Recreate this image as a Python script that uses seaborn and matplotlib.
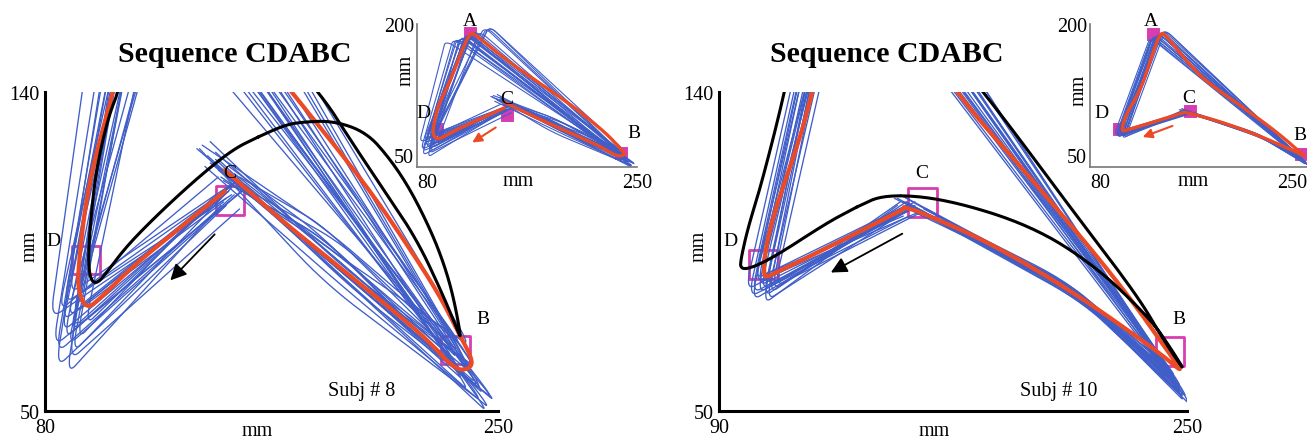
import numpy as np
import pandas as pd
import seaborn as sns
import matplotlib.pyplot as plt

sns.set_theme(style="white")
plt.rcParams['font.family'] = ['Liberation Serif', 'DejaVu Serif']
plt.rcParams['text.color'] = 'black'
plt.rcParams['axes.labelcolor'] = 'black'
plt.rcParams['xtick.color'] = 'black'
plt.rcParams['ytick.color'] = 'black'

BLUE = '#405ec8'
RED = '#ec4a26'
MAGENTA = '#d83cae'

TITLE = 'Sequence CDABC'

# ---------------- Subject 8 ----------------
# single trials: start near C, turn at D, apex A, turn at B, mid B->C, end near C
L_C0_X = [146, 150, 148, 152, 144, 149, 151, 147, 153, 145, 150, 148, 155, 146, 149, 152, 147, 151, 150, 145, 148, 154]
L_C0_Y = [110, 113, 108, 115, 111, 109, 114, 112, 107, 116, 111, 110, 113, 108, 112, 115, 109, 111, 114, 110, 113, 112]
L_D_X = [86, 90, 84, 88, 92, 83, 87, 95, 89, 85, 91, 82, 88, 88, 86, 90, 90, 84, 92, 87, 89, 89]
L_D_Y = [72, 66, 62, 76, 70, 68, 80, 74, 64, 78, 82, 76, 68, 60, 75, 73, 77, 66, 79, 70, 83, 72]
L_A_X = [118, 122, 110, 132, 120, 108, 115, 128, 113, 119, 124, 102, 136, 116, 121, 117, 136, 111, 123, 119, 114, 134]
L_A_Y = [190, 192, 186, 197, 189, 185, 188, 193, 187, 191, 194, 183, 198, 186, 190, 189, 198, 185, 193, 188, 187, 197]
L_B_X = [238, 242, 245, 236, 240, 248, 234, 241, 246, 237, 243, 250, 239, 247, 235, 244, 240, 249, 238, 242, 236, 245]
L_B_Y = [58, 62, 52, 66, 55, 50, 64, 60, 54, 68, 57, 52, 63, 49, 61, 56, 68, 53, 59, 62, 64, 55]
L_M_X = [188, 190, 185, 192, 187, 195, 184, 189, 193, 186, 191, 198, 187, 194, 183, 190, 188, 196, 186, 191, 185, 193]
L_M_Y = [92, 90, 86, 97, 91, 83, 99, 93, 88, 101, 92, 85, 96, 86, 100, 90, 95, 84, 98, 91, 102, 89]
L_C1_X = [142, 147, 138, 150, 145, 140, 152, 144, 148, 139, 155, 143, 146, 141, 149, 137, 151, 144, 147, 142, 153, 145]
L_C1_Y = [120, 117, 124, 115, 121, 119, 113, 123, 118, 125, 114, 120, 116, 122, 119, 124, 117, 121, 115, 126, 116, 118]

# mean trajectory
L_MEAN_X = [147.5, 133.2, 113.1, 100.6, 95.6, 92.5, 92.5, 95.6, 100.6, 105.6, 114, 121, 125, 150,
            175.7, 200.7, 217, 228.2, 235.7, 240.5, 239.5, 234, 222, 200.7, 175.7, 163.2, 147.5]
L_MEAN_Y = [112, 103.2, 91.0, 81.6, 78.8, 83.5, 91.0, 110.8, 126.7, 139.9, 170, 191, 189, 161,
            137.1, 113.6, 95.7, 82.5, 71.3, 64.5, 61.9, 61.5, 71.3, 84.4, 99.5, 107.5, 118]

# minimum-jerk prediction (closed loop B -> D -> A -> B)
L_MODEL_X = [160, 150.7, 138.2, 123.2, 110.7, 103.2, 99.4, 96.9, 96.2, 97.3, 98.8, 101.2, 104.4, 107.5,
             113, 121, 126, 150, 183.2, 194.4, 206.9, 219.5, 229.5, 235.1, 236.2, 233.2, 229.5, 224.5,
             217, 209.5, 200.7, 188.2, 175.7, 169.4, 160]
L_MODEL_Y = [127.3, 123.9, 116.4, 106.1, 96.6, 89.1, 85.8, 87.2, 93.8, 105, 115.5, 125, 134.3, 139.9,
             160, 188, 188, 168, 139.9, 126.7, 112.6, 98.5, 82.5, 72.2, 70.5, 82.5, 92, 101.4,
             112.6, 121.1, 128.6, 131.9, 131.5, 130.5, 127.3]

L_TARGET_X = [95.4, 149.4, 234.2]
L_TARGET_Y = [92.6, 109.3, 67.2]
L_TARGET_NAMES = ['D', 'C', 'B']
L_NAME_X = [83.1, 149.4, 244.5]
L_NAME_Y = [98.1, 117.3, 76.0]

L_INSET_TARGET_X = [121, 95.2, 149.3, 238]
L_INSET_TARGET_Y = [191, 89.9, 105, 65]
L_INSET_NAMES = ['A', 'D', 'C', 'B']
L_INSET_NAME_X = [121, 84.9, 149.3, 247.8]
L_INSET_NAME_Y = [203.5, 107.4, 121.4, 86.4]

L_ARROW = [(144.4, 100.4), (126.3, 86.3)]
L_INSET_ARROW = [(142.6, 93.0), (120.9, 74.1)]
L_SUBJ = 'Subj # 8'
L_SUBJ_XY = (198.8, 55.7)
L_XLIM = (80, 250)
L_XTICKS = ['80', '250']

# ---------------- Subject 10 ----------------
R_C0_X = [154, 156, 152, 157, 153, 155, 151, 158, 154, 156, 150, 157, 153, 155, 152, 159, 154, 156]
R_C0_Y = [107, 108, 106, 109, 107, 105, 108, 106, 109, 107, 106, 108, 105, 107, 109, 106, 108, 107]
R_D_X = [103, 106, 101, 104, 108, 100, 105, 102, 107, 103, 99, 106, 104, 101, 105, 109, 102, 104]
R_D_Y = [83, 85, 81, 87, 84, 82, 80, 86, 83, 85, 84, 81, 88, 83, 82, 85, 87, 84]
R_A_X = [132, 135, 129, 137, 134, 128, 131, 136, 133, 130, 127, 138, 134, 131, 133, 139, 129, 135]
R_A_Y = [189, 192, 187, 194, 190, 186, 188, 193, 191, 189, 186, 195, 190, 188, 191, 194, 187, 192]
R_B_X = [247, 249, 244, 251, 246, 248, 243, 250, 247, 245, 249, 252, 246, 248, 244, 250, 247, 249]
R_B_Y = [58, 55, 61, 53, 59, 56, 63, 52, 57, 60, 54, 51, 58, 55, 62, 53, 59, 56]
R_M_X = [211, 213, 209, 214, 210, 212, 208, 215, 211, 209, 213, 216, 210, 212, 208, 214, 211, 213]
R_M_Y = [84, 83, 86, 82, 85, 83, 87, 81, 84, 86, 82, 80, 85, 83, 87, 81, 85, 83]
R_C1_X = [156, 153, 158, 151, 157, 154, 160, 152, 155, 159, 153, 157, 150, 156, 158, 154, 152, 161]
R_C1_Y = [108, 109, 107, 110, 106, 108, 107, 111, 108, 106, 109, 107, 110, 108, 106, 109, 111, 107]

R_MEAN_X = [153.2, 128.5, 109.6, 105.8, 105.3, 106, 109.6, 116.9, 122, 128, 135, 139, 155, 170.6,
            196.8, 225.9, 246.2, 248.4, 240.4, 211.3, 182.3, 159, 153.2]
R_MEAN_Y = [107.0, 96.6, 89.1, 87.6, 89.5, 96.6, 107.9, 124.9, 139.9, 165, 191, 189, 162, 139.9,
            115.5, 87.2, 63.7, 60.9, 66.6, 83.5, 97.6, 106.1, 107.5]

R_MODEL_X = [137, 127.1, 109.6, 101, 97.3, 97.5, 100, 104.5, 112.5, 120, 127, 131, 155, 180.8,
             211.3, 233.1, 242, 249.8, 245, 237.5, 218.6, 196.8, 167.7, 146.7, 137]
R_MODEL_Y = [107.5, 103.2, 93.8, 90.3, 90.1, 93, 102, 114, 139.9, 170, 191, 190, 165, 139.9,
             106.1, 82.5, 70, 60.5, 67, 76, 91, 102.3, 109.8, 111.2, 107.5]

R_TARGET_X = [105.2, 159.6, 244.2]
R_TARGET_Y = [91.3, 108.9, 66.8]
R_TARGET_NAMES = ['D', 'C', 'B']
R_NAME_X = [94.0, 159.3, 247.1]
R_NAME_Y = [98.1, 117.3, 76.0]

R_INSET_TARGET_X = [129, 103, 158, 245]
R_INSET_TARGET_Y = [189, 90, 108.8, 64]
R_INSET_NAMES = ['A', 'D', 'C', 'B']
R_INSET_NAME_X = [128, 89.2, 157, 244.3]
R_INSET_NAME_Y = [203.5, 107.4, 123.1, 84.6]

R_ARROW = [(153.5, 100.4), (127.4, 88.7)]
R_INSET_ARROW = [(146.6, 94.1), (119.2, 80.4)]
R_SUBJ = 'Subj # 10'
R_SUBJ_XY = (206.2, 55.7)
R_XLIM = (90, 250)
R_XTICKS = ['90', '250']

YLIM_MAIN = (50, 140)
YTICKS_MAIN = ['50', '140']
XLIM_INSET = (80, 250)
YLIM_INSET = (50, 200)
XTICKS_INSET = ['80', '250']
YTICKS_INSET = ['50', '200']


def chaikin(pts, n_iter=4):
    """Corner-cutting subdivision: a smooth curve through the control polygon."""
    p = np.asarray(pts, dtype=float)
    for _ in range(n_iter):
        q = 0.75 * p[:-1] + 0.25 * p[1:]
        r = 0.25 * p[:-1] + 0.75 * p[1:]
        mid = np.empty((2 * len(q), 2))
        mid[0::2] = q
        mid[1::2] = r
        p = np.vstack([p[:1], mid, p[-1:]])
    return p


def rounded(ctrl, fracs):
    """Straight strokes with the turns rounded over a short stretch."""
    ctrl = [np.asarray(c, dtype=float) for c in ctrl]
    out = [ctrl[0]]
    for i in range(1, len(ctrl) - 1):
        a, b, c = ctrl[i - 1], ctrl[i], ctrl[i + 1]
        f = fracs[i - 1]
        out += [b + f * (a - b), b, b + f * (c - b)]
    out.append(ctrl[-1])
    return chaikin(out, 4)


def trial_frame(c0x, c0y, dx, dy, axx, ayy, bx, by, mx, my, c1x, c1y):
    frames = []
    for i in range(len(dx)):
        ctrl = [(c0x[i], c0y[i]), (dx[i], dy[i]), (axx[i], ayy[i]),
                (bx[i], by[i]), (mx[i], my[i]), (c1x[i], c1y[i])]
        p = rounded(ctrl, [0.12, 0.10, 0.12, 0.45])
        frames.append(pd.DataFrame({'x': p[:, 0], 'y': p[:, 1], 'trial': i}))
    return pd.concat(frames, ignore_index=True)


def path_frame(xs, ys, n_iter=3):
    p = chaikin(list(zip(xs, ys)), n_iter)
    return pd.DataFrame({'x': p[:, 0], 'y': p[:, 1]})


def style_axes(ax, xlim, ylim, xt, yt, spine_color, spine_w, fs, pad_x, pad_y):
    ax.set_xlim(*xlim)
    ax.set_ylim(*ylim)
    ax.set_xticks(list(xlim))
    ax.set_xticklabels(xt)
    ax.set_yticks(list(ylim))
    ax.set_yticklabels(yt)
    ax.tick_params(axis='x', length=0, labelsize=fs, pad=pad_x)
    ax.tick_params(axis='y', length=0, labelsize=fs, pad=pad_y)
    for s in ['top', 'right']:
        ax.spines[s].set_visible(False)
    for s in ['left', 'bottom']:
        ax.spines[s].set_visible(True)
        ax.spines[s].set_color(spine_color)
        ax.spines[s].set_linewidth(spine_w)
    ax.grid(False)


def draw_main(ax, trials, mean, model, tx, ty, names, nx, ny, arrow, subj, subj_xy, xlim, xt,
              xlab_x, ylab_x):
    sns.scatterplot(x=tx, y=ty, marker='s', s=430, facecolor='none', edgecolor=MAGENTA,
                    linewidth=2.0, ax=ax, zorder=1, legend=False)
    sns.lineplot(data=trials, x='x', y='y', units='trial', estimator=None, sort=False,
                 color=BLUE, lw=0.95, ax=ax, legend=False, zorder=2)
    sns.lineplot(data=mean, x='x', y='y', estimator=None, sort=False, color=RED, lw=3.0,
                 ax=ax, zorder=3)
    sns.lineplot(data=model, x='x', y='y', estimator=None, sort=False, color='black', lw=2.2,
                 ax=ax, zorder=4)
    for name, x, y in zip(names, nx, ny):
        ax.text(x, y, name, fontsize=14, ha='center', va='center')
    ax.annotate('', xy=arrow[1], xytext=arrow[0],
                arrowprops=dict(arrowstyle='-|>', color='black', lw=1.3, mutation_scale=24))
    ax.text(subj_xy[0], subj_xy[1], subj, fontsize=14.5, ha='center', va='center')
    style_axes(ax, xlim, YLIM_MAIN, xt, YTICKS_MAIN, 'black', 2.2, 14.5, 5, 4)
    ax.set_xlabel('mm', fontsize=14.5)
    ax.set_ylabel('mm', fontsize=14.5)
    ax.xaxis.set_label_coords(xlab_x, -0.03)
    ax.yaxis.set_label_coords(ylab_x, 0.52)


def draw_inset(ax, trials, mean, tx, ty, names, nx, ny, arrow, ylab_y, xlab_x):
    sns.scatterplot(x=tx, y=ty, marker='s', s=70, color=MAGENTA, edgecolor=MAGENTA,
                    ax=ax, zorder=1, legend=False)
    sns.lineplot(data=trials, x='x', y='y', units='trial', estimator=None, sort=False,
                 color=BLUE, lw=0.8, ax=ax, legend=False, zorder=2)
    sns.lineplot(data=mean, x='x', y='y', estimator=None, sort=False, color=RED, lw=2.4,
                 ax=ax, zorder=3)
    for name, x, y in zip(names, nx, ny):
        ax.text(x, y, name, fontsize=14, ha='center', va='center', clip_on=False)
    ax.annotate('', xy=arrow[1], xytext=arrow[0],
                arrowprops=dict(arrowstyle='-|>', color=RED, lw=1.5, mutation_scale=14))
    style_axes(ax, XLIM_INSET, YLIM_INSET, XTICKS_INSET, YTICKS_INSET, '#777777', 1.2, 14.5, 4, 2)
    # keep the corner labels apart: "50" sits above the origin, "80" just right of it
    ax.get_yticklabels()[0].set_verticalalignment('bottom')
    ax.get_xticklabels()[0].set_horizontalalignment('left')
    ax.set_xlabel('mm', fontsize=14.5)
    ax.set_ylabel('mm', fontsize=14.5)
    ax.xaxis.set_label_coords(xlab_x, -0.03)
    ax.yaxis.set_label_coords(-0.005, ylab_y)


fig = plt.figure(figsize=(13.07, 4.39), dpi=100)
W, H = 1307, 439

ax_l = fig.add_axes([45 / W, 1 - 412 / H, 453 / W, 319 / H])
ax_r = fig.add_axes([719 / W, 1 - 412 / H, 468 / W, 319 / H])
in_l = fig.add_axes([417 / W, 1 - 168 / H, 220 / W, 143 / H], facecolor='none')
in_r = fig.add_axes([1090 / W, 1 - 168 / H, 217 / W, 143 / H], facecolor='none')
for a in (ax_l, ax_r):
    a.set_facecolor('none')
    a.set_zorder(1)
for a in (in_l, in_r):
    a.set_zorder(2)

left_trials = trial_frame(L_C0_X, L_C0_Y, L_D_X, L_D_Y, L_A_X, L_A_Y, L_B_X, L_B_Y,
                          L_M_X, L_M_Y, L_C1_X, L_C1_Y)
right_trials = trial_frame(R_C0_X, R_C0_Y, R_D_X, R_D_Y, R_A_X, R_A_Y, R_B_X, R_B_Y,
                           R_M_X, R_M_Y, R_C1_X, R_C1_Y)
left_mean = path_frame(L_MEAN_X, L_MEAN_Y)
right_mean = path_frame(R_MEAN_X, R_MEAN_Y)
left_model = path_frame(L_MODEL_X, L_MODEL_Y)
right_model = path_frame(R_MODEL_X, R_MODEL_Y)

draw_main(ax_l, left_trials, left_mean, left_model, L_TARGET_X, L_TARGET_Y, L_TARGET_NAMES,
          L_NAME_X, L_NAME_Y, L_ARROW, L_SUBJ, L_SUBJ_XY, L_XLIM, L_XTICKS, 0.468, -0.012)
draw_main(ax_r, right_trials, right_mean, right_model, R_TARGET_X, R_TARGET_Y, R_TARGET_NAMES,
          R_NAME_X, R_NAME_Y, R_ARROW, R_SUBJ, R_SUBJ_XY, R_XLIM, R_XTICKS, 0.459, -0.022)

draw_inset(in_l, left_trials, left_mean, L_INSET_TARGET_X, L_INSET_TARGET_Y, L_INSET_NAMES,
           L_INSET_NAME_X, L_INSET_NAME_Y, L_INSET_ARROW, 0.685, 0.46)
draw_inset(in_r, right_trials, right_mean, R_INSET_TARGET_X, R_INSET_TARGET_Y, R_INSET_NAMES,
           R_INSET_NAME_X, R_INSET_NAME_Y, R_INSET_ARROW, 0.54, 0.475)
in_r.get_xticklabels()[-1].set_horizontalalignment('right')

fig.text(235 / W, 1 - 55 / H, TITLE, fontsize=21.5, fontweight='bold', ha='center', va='center')
fig.text(887 / W, 1 - 55 / H, TITLE, fontsize=21.5, fontweight='bold', ha='center', va='center')

fig.savefig('out.png', dpi=100, facecolor='white')
